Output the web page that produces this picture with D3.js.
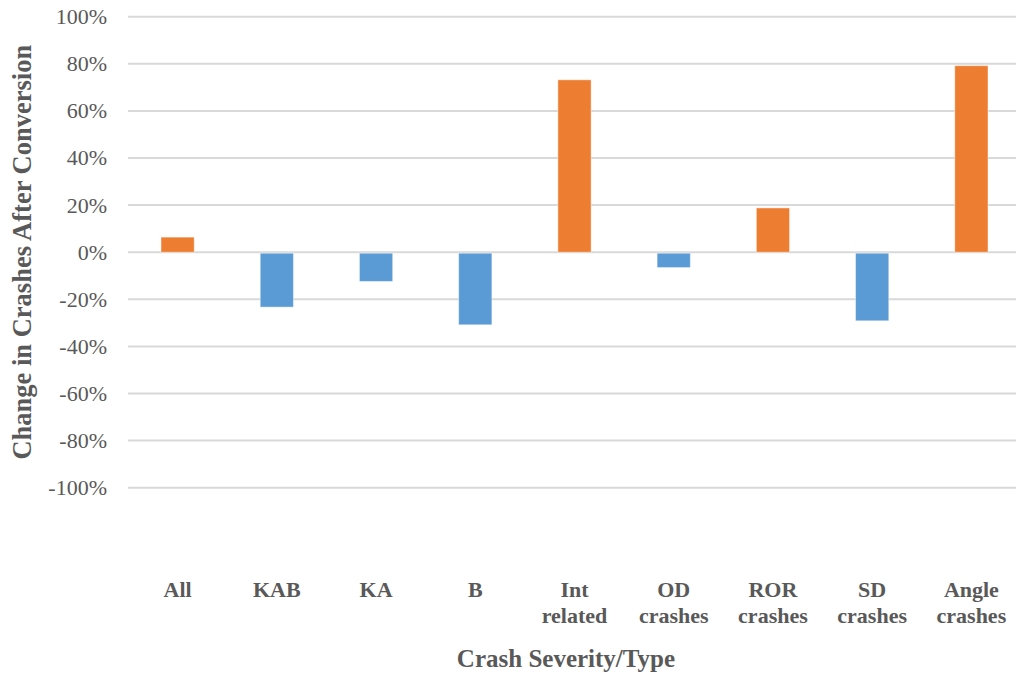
<!DOCTYPE html>
<html>
<head>
<meta charset="utf-8">
<script src="https://cdn.jsdelivr.net/npm/d3@7"></script>
<style>
  html, body { margin: 0; padding: 0; background: #fff; }
  svg { display: block; }
  text { font-family: "Liberation Serif", "Times New Roman", serif; fill: #595959; }
</style>
</head>
<body>
<svg id="chart" width="1016" height="677"></svg>
<script>
const categories = ["All", "KAB", "KA", "B", "Int related", "OD crashes", "ROR crashes", "SD crashes", "Angle crashes"];
const changeValues = [0.064, -0.229, -0.12, -0.304, 0.732, -0.061, 0.188, -0.287, 0.792];
const yTickValues = [-1, -0.8, -0.6, -0.4, -0.2, 0, 0.2, 0.4, 0.6, 0.8, 1];
const xAxisTitle = "Crash Severity/Type";
const yAxisTitle = "Change in Crashes After Conversion";

(function () {
const svg = d3.select("#chart");
const plotLeft = 128, plotRight = 1021, plotTop = 16.7, plotBottom = 487.7;

const x = d3.scaleBand().domain(categories).range([plotLeft, plotRight]).paddingInner(0.665).paddingOuter(0.3325);
const y = d3.scaleLinear().domain([-1, 1]).range([plotBottom, plotTop]);

// gridlines
svg.append("g").selectAll("line").data(yTickValues).join("line")
  .attr("x1", plotLeft).attr("x2", plotRight)
  .attr("y1", d => y(d)).attr("y2", d => y(d))
  .attr("stroke", "#d9d9d9").attr("stroke-width", 2);

// y tick labels
const fmt = d3.format(".0%");
svg.append("g").selectAll("text").data(yTickValues).join("text")
  .attr("x", 107).attr("y", d => y(d))
  .attr("dy", "0.34em")
  .attr("text-anchor", "end")
  .attr("font-size", 22)
  .text(d => fmt(d).replace("\u2212", "-"));

// bars
svg.append("g").selectAll("rect").data(categories).join("rect")
  .attr("x", d => x(d))
  .attr("width", x.bandwidth())
  .attr("y", (d, i) => changeValues[i] >= 0 ? y(changeValues[i]) : y(0) + 1)
  .attr("height", (d, i) => Math.abs(y(changeValues[i]) - y(0)))
  .attr("fill", (d, i) => changeValues[i] >= 0 ? "#ed7d31" : "#5b9bd5")
  .attr("stroke", "#ffffff").attr("stroke-opacity", 0.45).attr("stroke-width", 1);

// category labels
const cat = svg.append("g").selectAll("text").data(categories).join("text")
  .attr("text-anchor", "middle")
  .attr("font-size", 22)
  .attr("font-weight", "bold");
cat.each(function(d) {
  const words = d.split(" ");
  const t = d3.select(this);
  words.forEach((w, k) => {
    t.append("tspan")
      .attr("x", x(d) + x.bandwidth() / 2)
      .attr("y", 596.7 + k * 26.5)
      .text(w);
  });
});

// axis titles
svg.append("text")
  .attr("x", 566).attr("y", 667)
  .attr("text-anchor", "middle")
  .attr("font-size", 25).attr("font-weight", "bold")
  .text(xAxisTitle);

svg.append("text")
  .attr("transform", `translate(31, ${y(0)}) rotate(-90)`)
  .attr("text-anchor", "middle")
  .attr("font-size", 26.5).attr("font-weight", "bold")
  .text(yAxisTitle);
})();
</script>
</body>
</html>
